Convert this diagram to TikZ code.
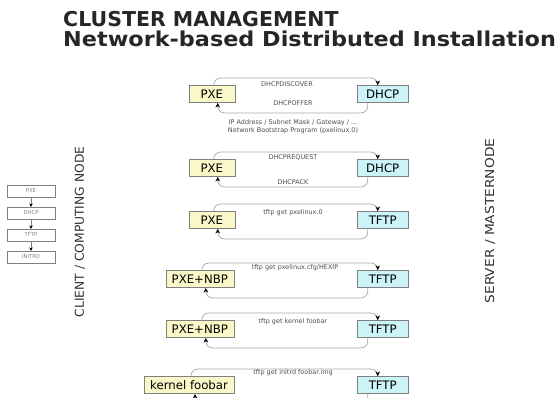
\documentclass[tikz,border=0pt]{standalone}
\usepackage{fontspec}
\setmainfont{DejaVu Sans}
\usetikzlibrary{arrows.meta}
\definecolor{clientfill}{RGB}{250,247,200}
\definecolor{serverfill}{RGB}{204,243,248}

\begin{document}
\begin{tikzpicture}[x=0.03cm, y=-0.03cm,
    client/.style={draw=gray, fill=clientfill, anchor=east, minimum width=1.38cm,
      minimum height=0.52cm, inner xsep=5pt, font=\fontsize{10}{12}\selectfont},
    server/.style={draw=gray, fill=serverfill, anchor=west, minimum width=1.53cm,
      minimum height=0.52cm, font=\fontsize{10}{12}\selectfont},
    msg/.style={draw=gray!70, line width=0.6pt, rounded corners=0.2cm,
      -{Stealth[length=4pt, width=4pt, black]}},
    lbl/.style={text=black!70, font=\fontsize{5.5}{6.5}\selectfont},
    bootbox/.style={draw=gray, minimum width=1.44cm, minimum height=0.33cm,
      text=gray, font=\fontsize{4.5}{5}\selectfont},
    side/.style={rotate=90, text=black!80, font=\fontsize{10.5}{12}\selectfont},
    heading/.style={anchor=base west, inner sep=0, text=black!85,
      font=\bfseries\fontsize{17.5}{20}\selectfont}]
  \clip (0,0) rectangle (559,398);

  % title
  \node[heading] (title) at (63,27) {CLUSTER MANAGEMENT};
  \node[heading] (subtitle) at (63,47) {\scalebox{1.09}[1]{Network-based Distributed Installation}};

  % boot order on the client
  \node[bootbox] (b1) at (31,191) {PXE};
  \node[bootbox] (b2) at (31,213) {DHCP};
  \node[bootbox] (b3) at (31,235) {TFTP};
  \node[bootbox] (b4) at (31,257) {INITRD};
  \draw[draw=gray, -{Stealth[length=3pt, width=3pt, black]}] (b1)--(b2);
  \draw[draw=gray, -{Stealth[length=3pt, width=3pt, black]}] (b2)--(b3);
  \draw[draw=gray, -{Stealth[length=3pt, width=3pt, black]}] (b3)--(b4);

  \node[side] (clientside) at (80,232) {CLIENT / COMPUTING NODE};
  \node[side] (serverside) at (490,221) {\scalebox{1.12}[1]{SERVER / MASTERNODE}};

  % the six exchanges
  \node[client] (c1) at (235,94) {PXE};
  \node[server] (s1) at (357,94) {DHCP};
  \node[client] (c2) at (235,168) {PXE};
  \node[server] (s2) at (357,168) {DHCP};
  \node[client] (c3) at (235,220) {PXE};
  \node[server] (s3) at (357,220) {TFTP};
  \node[client] (c4) at (234,279) {PXE+NBP};
  \node[server] (s4) at (357,279) {TFTP};
  \node[client] (c5) at (234,329) {PXE+NBP};
  \node[server] (s5) at (357,329) {TFTP};
  \node[client] (c6) at (234,385) {kernel foobar};
  \node[server] (s6) at (357,385) {TFTP};

  \draw[msg] ([xshift=0.06cm]c1.north) -- ++(0,-7) -| ([xshift=-0.15cm]s1.north);
  \draw[msg] ([xshift=-0.45cm]s1.south) -- ++(0,10) -| ([xshift=0.18cm]c1.south);
  \draw[msg] ([xshift=0.06cm]c2.north) -- ++(0,-7) -| ([xshift=-0.15cm]s2.north);
  \draw[msg] ([xshift=-0.45cm]s2.south) -- ++(0,10) -| ([xshift=0.18cm]c2.south);
  \draw[msg] ([xshift=0.06cm]c3.north) -- ++(0,-7) -| ([xshift=-0.15cm]s3.north);
  \draw[msg] ([xshift=-0.45cm]s3.south) -- ++(0,10) -| ([xshift=0.18cm]c3.south);
  \draw[msg] ([xshift=0.06cm]c4.north) -- ++(0,-7) -| ([xshift=-0.15cm]s4.north);
  \draw[msg] ([xshift=-0.45cm]s4.south) -- ++(0,10) -| ([xshift=0.18cm]c4.south);
  \draw[msg] ([xshift=0.06cm]c5.north) -- ++(0,-7) -| ([xshift=-0.15cm]s5.north);
  \draw[msg] ([xshift=-0.45cm]s5.south) -- ++(0,10) -| ([xshift=0.18cm]c5.south);
  \draw[msg] ([xshift=0.06cm]c6.north) -- ++(0,-7) -| ([xshift=-0.15cm]s6.north);
  \draw[msg] ([xshift=-0.45cm]s6.south) -- ++(0,10) -| ([xshift=0.18cm]c6.south);

  % messages
  \node[lbl] (m1) at (287,84) {DHCPDISCOVER};
  \node[lbl] (m2) at (293,103) {DHCPOFFER};
  \node[lbl, align=center] (m3) at (293,127) {IP Address / Subnet Mask / Gateway / ...\\Network Bootstrap Program (pxelinux.0)};
  \node[lbl] (m4) at (293,158) {DHCPREQUEST};
  \node[lbl] (m5) at (293,182) {DHCPACK};
  \node[lbl] (m6) at (293,213) {tftp get pxelinux.0};
  \node[lbl] (m7) at (295,268) {tftp get pxelinux.cfg/HEXIP};
  \node[lbl] (m8) at (293,322) {tftp get kernel foobar};
  \node[lbl] (m9) at (293,373) {tftp get initrd foobar.img};
\end{tikzpicture}
\end{document}
